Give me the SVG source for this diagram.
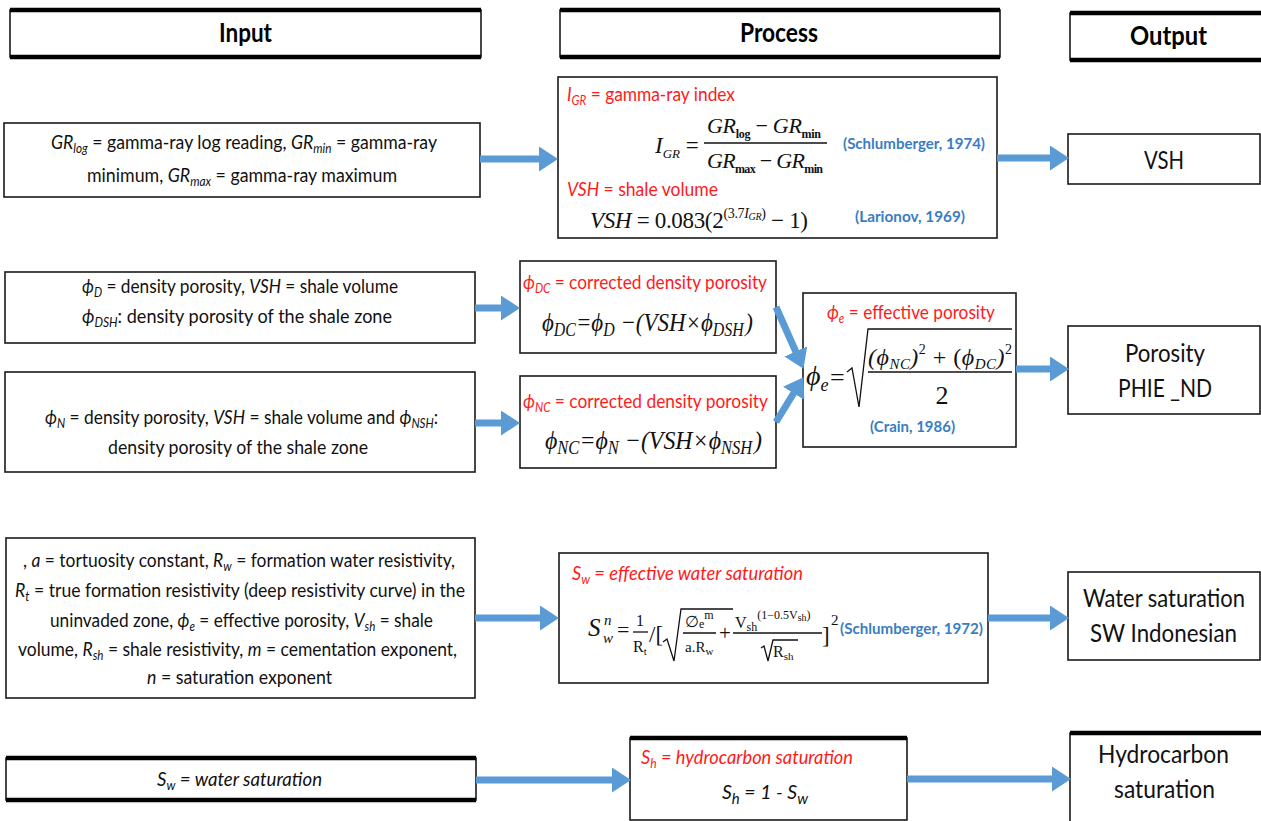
<svg xmlns="http://www.w3.org/2000/svg" width="1261" height="821" viewBox="0 0 1261 821">
  <style>
    .box { fill: #ffffff; stroke: #1a1a1a; stroke-width: 1.6; }
    .edge { stroke: #000000; stroke-width: 4.5; }
    .hdr { font-family: Lato, "Liberation Sans", sans-serif; font-weight: bold; font-size: 26px; fill: #000; }
    .t { font-family: Lato, "Liberation Sans", sans-serif; font-size: 19.5px; fill: #111; }
    .out { font-family: Lato, "Liberation Sans", sans-serif; font-size: 25px; fill: #111; }
    .red { font-family: Lato, "Liberation Sans", sans-serif; font-size: 19.5px; fill: #ff1a1a; }
    .cite { font-family: Lato, "Liberation Sans", sans-serif; font-weight: bold; font-size: 16px; fill: #3a7dc2; }
    .m { font-family: "Liberation Serif", "Times New Roman", serif; fill: #111; }
    .i { font-style: italic; }
    .sub { font-size: 13px; }
    .conn line { stroke: #5b9bd5; stroke-width: 7; marker-end: url(#head); }
    .rule { stroke: #111; stroke-width: 1.3; fill: none; }
  </style>
  <defs>
    <marker id="head" markerUnits="userSpaceOnUse" markerWidth="19" markerHeight="25" refX="8" refY="12.5" orient="auto">
      <path d="M0,0 L19,12.5 L0,25 z" fill="#5b9bd5"/>
    </marker>
  </defs>

  <rect width="1261" height="821" fill="#ffffff"/>

  <!-- column headers -->
  <g id="hdr-input">
    <rect class="box" x="10" y="10" width="471" height="47"/>
    <line class="edge" x1="10" y1="10" x2="481" y2="10"/>
    <line class="edge" x1="10" y1="57" x2="481" y2="57"/>
    <text class="hdr" x="219" y="42" textLength="53" lengthAdjust="spacingAndGlyphs">Input</text>
  </g>
  <g id="hdr-process">
    <rect class="box" x="560" y="10" width="440" height="47"/>
    <line class="edge" x1="560" y1="10" x2="1000" y2="10"/>
    <line class="edge" x1="560" y1="57" x2="1000" y2="57"/>
    <text class="hdr" x="740" y="42" textLength="78" lengthAdjust="spacingAndGlyphs">Process</text>
  </g>
  <g id="hdr-output">
    <rect class="box" x="1070" y="13" width="200" height="47"/>
    <line class="edge" x1="1070" y1="13" x2="1261" y2="13"/>
    <line class="edge" x1="1070" y1="60" x2="1261" y2="60"/>
    <text class="hdr" x="1130" y="45" textLength="77" lengthAdjust="spacingAndGlyphs">Output</text>
  </g>

  <!-- row 1: shale volume -->
  <g id="in-gr">
    <rect class="box" x="4" y="123" width="476" height="74"/>
    <text class="t" x="51" y="149" textLength="386" lengthAdjust="spacingAndGlyphs"><tspan class="i">GR</tspan><tspan class="i sub" dy="4">log</tspan><tspan dy="-4"> = gamma-ray log reading,  </tspan><tspan class="i">GR</tspan><tspan class="i sub" dy="4">min</tspan><tspan dy="-4"> = gamma-ray</tspan></text>
    <text class="t" x="87" y="182" textLength="310" lengthAdjust="spacingAndGlyphs">minimum, <tspan class="i">GR</tspan><tspan class="i sub" dy="4">max</tspan><tspan dy="-4"> = gamma-ray maximum</tspan></text>
  </g>
  <g id="proc-vsh">
    <rect class="box" x="558" y="77" width="439" height="161"/>
    <text class="red" x="567" y="101" textLength="168" lengthAdjust="spacingAndGlyphs"><tspan class="i">I</tspan><tspan class="i sub" dy="4">GR</tspan><tspan dy="-4"> = gamma-ray index</tspan></text>
    <text class="m" x="655" y="153" font-size="23"><tspan class="i">I</tspan><tspan class="i" font-size="13" dy="5">GR</tspan><tspan dy="-5"> =</tspan></text>
    <text class="m" x="707" y="133" font-size="22" textLength="114"><tspan class="i">GR</tspan><tspan font-size="12" font-weight="bold" dy="5">log</tspan><tspan dy="-5"> − </tspan><tspan class="i">GR</tspan><tspan font-size="12" font-weight="bold" dy="5">min</tspan></text>
    <line class="rule" x1="704" y1="143" x2="827" y2="143"/>
    <text class="m" x="707" y="168" font-size="22" textLength="116"><tspan class="i">GR</tspan><tspan font-size="12" font-weight="bold" dy="5">max</tspan><tspan dy="-5"> − </tspan><tspan class="i">GR</tspan><tspan font-size="12" font-weight="bold" dy="5">min</tspan></text>
    <text class="cite" x="843" y="149" textLength="142" lengthAdjust="spacingAndGlyphs">(Schlumberger, 1974)</text>
    <text class="red" x="567" y="196" textLength="151" lengthAdjust="spacingAndGlyphs"><tspan class="i">VSH</tspan> = shale volume</text>
    <text class="m" x="590" y="228" font-size="23" textLength="218"><tspan class="i">VSH</tspan> = 0.083(2<tspan font-size="14" dy="-10">(3.7</tspan><tspan class="i" font-size="14">I</tspan><tspan class="i" font-size="10" dy="2">GR</tspan><tspan font-size="14" dy="-2">)</tspan><tspan dy="10"> − 1)</tspan></text>
    <text class="cite" x="855" y="222" textLength="110" lengthAdjust="spacingAndGlyphs">(Larionov, 1969)</text>
  </g>
  <g id="out-vsh">
    <rect class="box" x="1068" y="134" width="192" height="50"/>
    <text class="out" x="1144" y="169" textLength="40" lengthAdjust="spacingAndGlyphs">VSH</text>
  </g>

  <!-- row 2: porosity -->
  <g id="in-density">
    <rect class="box" x="5" y="272" width="470" height="71"/>
    <text class="t" x="82" y="293" textLength="316" lengthAdjust="spacingAndGlyphs"><tspan class="i">ϕ</tspan><tspan class="i sub" dy="4">D</tspan><tspan dy="-4"> = density porosity, </tspan><tspan class="i">VSH</tspan> = shale volume</text>
    <text class="t" x="82" y="323" textLength="310" lengthAdjust="spacingAndGlyphs"><tspan class="i">ϕ</tspan><tspan class="i sub" dy="4">DSH</tspan><tspan dy="-4">:  density porosity of the shale zone</tspan></text>
  </g>
  <g id="in-neutron">
    <rect class="box" x="5" y="372" width="470" height="100"/>
    <text class="t" x="45" y="424" textLength="393" lengthAdjust="spacingAndGlyphs"><tspan class="i">ϕ</tspan><tspan class="i sub" dy="4">N</tspan><tspan dy="-4"> = density porosity, </tspan><tspan class="i">VSH</tspan> = shale volume and <tspan class="i">ϕ</tspan><tspan class="i sub" dy="4">NSH</tspan><tspan dy="-4">:</tspan></text>
    <text class="t" x="108" y="454" textLength="260" lengthAdjust="spacingAndGlyphs">density porosity of the shale zone</text>
  </g>
  <g id="proc-dc">
    <rect class="box" x="520" y="261" width="256" height="92"/>
    <text class="red" x="523" y="289" textLength="244" lengthAdjust="spacingAndGlyphs"><tspan class="i">ϕ</tspan><tspan class="i sub" dy="4">DC</tspan><tspan dy="-4"> = corrected density porosity</tspan></text>
    <text class="m i" x="542" y="331" font-size="26" textLength="211" lengthAdjust="spacingAndGlyphs">ϕ<tspan font-size="18" dy="5">DC</tspan><tspan dy="-5">=ϕ</tspan><tspan font-size="18" dy="5">D</tspan><tspan dy="-5"> −(VSH×ϕ</tspan><tspan font-size="18" dy="5">DSH</tspan><tspan dy="-5" dx="2">)</tspan></text>
  </g>
  <g id="proc-nc">
    <rect class="box" x="520" y="376" width="256" height="92"/>
    <text class="red" x="523" y="408" textLength="245" lengthAdjust="spacingAndGlyphs"><tspan class="i">ϕ</tspan><tspan class="i sub" dy="4">NC</tspan><tspan dy="-4"> = corrected density porosity</tspan></text>
    <text class="m i" x="545" y="449" font-size="26" textLength="217" lengthAdjust="spacingAndGlyphs">ϕ<tspan font-size="18" dy="5">NC</tspan><tspan dy="-5">=ϕ</tspan><tspan font-size="18" dy="5">N</tspan><tspan dy="-5"> −(VSH×ϕ</tspan><tspan font-size="18" dy="5">NSH</tspan><tspan dy="-5" dx="2">)</tspan></text>
  </g>
  <g id="proc-phie">
    <rect class="box" x="803" y="293" width="213" height="154"/>
    <text class="red" x="827" y="319" textLength="168" lengthAdjust="spacingAndGlyphs"><tspan class="i">ϕ</tspan><tspan class="i sub" dy="4">e</tspan><tspan dy="-4"> = effective porosity</tspan></text>
    <text class="m i" x="806" y="385" font-size="28">ϕ<tspan font-size="18" dy="6">e</tspan></text>
    <text class="m" x="830" y="386" font-size="26">=</text>
    <path class="rule" d="M847,372 L852,368 L859,407 L868,329 L1012,329" stroke-width="1.6"/>
    <text class="m i" x="868" y="365" font-size="24" textLength="144">(ϕ<tspan font-size="15" dy="4">NC</tspan><tspan dy="-4">)</tspan><tspan font-style="normal" font-size="14" dy="-11">2</tspan><tspan font-style="normal" dy="11"> + (</tspan>ϕ<tspan font-size="15" dy="4">DC</tspan><tspan dy="-4">)</tspan><tspan font-style="normal" font-size="14" dy="-11">2</tspan></text>
    <line class="rule" x1="868" y1="372" x2="1012" y2="372"/>
    <text class="m" x="942" y="404" font-size="26" text-anchor="middle">2</text>
    <text class="cite" x="870" y="432" font-size="15" textLength="85" lengthAdjust="spacingAndGlyphs">(Crain, 1986)</text>
  </g>
  <g id="out-porosity">
    <rect class="box" x="1068" y="326" width="192" height="88"/>
    <text class="out" x="1125" y="362" textLength="80" lengthAdjust="spacingAndGlyphs">Porosity</text>
    <text class="out" x="1118" y="397" textLength="94" lengthAdjust="spacingAndGlyphs">PHIE _ND</text>
  </g>

  <!-- row 3: water saturation -->
  <g id="in-sw">
    <rect class="box" x="6" y="538" width="469" height="160"/>
    <text class="t" x="23" y="567" textLength="432" lengthAdjust="spacingAndGlyphs">, <tspan class="i">a</tspan> = tortuosity constant, <tspan class="i">R</tspan><tspan class="i sub" dy="4">w</tspan><tspan dy="-4"> = formation water resistivity,</tspan></text>
    <text class="t" x="15" y="597" textLength="450" lengthAdjust="spacingAndGlyphs"><tspan class="i">R</tspan><tspan class="i sub" dy="4">t</tspan><tspan dy="-4"> = true formation resistivity (deep resistivity curve) in the</tspan></text>
    <text class="t" x="50" y="627" textLength="383" lengthAdjust="spacingAndGlyphs">uninvaded zone, <tspan class="i">ϕ</tspan><tspan class="i sub" dy="4">e</tspan><tspan dy="-4"> = effective porosity, </tspan><tspan class="i">V</tspan><tspan class="i sub" dy="4">sh</tspan><tspan dy="-4"> = shale</tspan></text>
    <text class="t" x="18" y="656" textLength="439" lengthAdjust="spacingAndGlyphs">volume, <tspan class="i">R</tspan><tspan class="i sub" dy="4">sh</tspan><tspan dy="-4"> = shale resistivity, </tspan><tspan class="i">m</tspan> = cementation exponent,</text>
    <text class="t" x="147" y="684" textLength="185" lengthAdjust="spacingAndGlyphs"><tspan class="i">n</tspan> = saturation exponent</text>
  </g>
  <g id="proc-sw">
    <rect class="box" x="559" y="553" width="429" height="130"/>
    <text class="red i" x="572" y="580" textLength="231" lengthAdjust="spacingAndGlyphs">S<tspan class="sub" dy="4">w</tspan><tspan dy="-4"> = effective water saturation</tspan></text>
    <!-- Indonesian equation -->
    <text class="m i" x="588" y="636" font-size="25">S</text>
    <text class="m i" x="604" y="625" font-size="15">n</text>
    <text class="m i" x="603" y="643" font-size="15">w</text>
    <text class="m" x="617" y="637" font-size="22">=</text>
    <text class="m" x="640" y="626" font-size="16" text-anchor="middle">1</text>
    <line class="rule" x1="633" y1="632" x2="648" y2="632"/>
    <text class="m" x="633" y="652" font-size="16">R<tspan font-size="11" dy="3">t</tspan></text>
    <text class="m" x="649" y="642" font-size="23">/[</text>
    <path class="rule" d="M663,642 L667,639 L674,661 L681,609 L733,609"/>
    <text class="m" x="685" y="627" font-size="16">∅<tspan font-size="12" dy="1">e</tspan><tspan font-size="12" dy="-9">m</tspan></text>
    <line class="rule" x1="683" y1="633" x2="716" y2="633"/>
    <text class="m" x="685" y="652" font-size="15">a.R<tspan font-size="11" dy="3">w</tspan></text>
    <text class="m" x="719" y="640" font-size="21">+</text>
    <text class="m" x="735" y="628" font-size="16">V<tspan font-size="12" dy="3">sh</tspan><tspan font-size="12" dy="-12">(1−0.5V</tspan><tspan font-size="10" dy="2">sh</tspan><tspan font-size="12" dy="-2">)</tspan></text>
    <line class="rule" x1="733" y1="633" x2="822" y2="633"/>
    <path class="rule" d="M761,648 L764,646 L768,661 L773,640 L798,640"/>
    <text class="m" x="773" y="657" font-size="16">R<tspan font-size="11" dy="3">sh</tspan></text>
    <text class="m" x="822" y="643" font-size="23">]</text>
    <text class="m" x="831" y="625" font-size="15">2</text>
    <text class="cite" x="840" y="634" textLength="143" lengthAdjust="spacingAndGlyphs">(Schlumberger, 1972)</text>
  </g>
  <g id="out-sw">
    <rect class="box" x="1068" y="572" width="192" height="88"/>
    <text class="out" x="1083" y="607" textLength="162" lengthAdjust="spacingAndGlyphs">Water saturation</text>
    <text class="out" x="1090" y="642" textLength="147" lengthAdjust="spacingAndGlyphs">SW Indonesian</text>
  </g>

  <!-- row 4: hydrocarbon saturation -->
  <g id="in-sat">
    <rect class="box" x="6" y="758" width="470" height="42"/>
    <line class="edge" x1="6" y1="758" x2="476" y2="758"/>
    <line class="edge" x1="6" y1="800" x2="476" y2="800"/>
    <text class="t i" x="157" y="786" textLength="165" lengthAdjust="spacingAndGlyphs">S<tspan class="sub" dy="4">w</tspan><tspan dy="-4"> = water saturation</tspan></text>
  </g>
  <g id="proc-sh">
    <rect class="box" x="630" y="738" width="277" height="82"/>
    <line class="edge" x1="630" y1="738" x2="907" y2="738"/>
    <text class="red i" x="641" y="764" textLength="212" lengthAdjust="spacingAndGlyphs">S<tspan class="sub" dy="4">h</tspan><tspan dy="-4"> = hydrocarbon saturation</tspan></text>
    <text class="t i" x="722" y="799" font-size="23" textLength="86" lengthAdjust="spacingAndGlyphs">S<tspan font-size="15" dy="5">h</tspan><tspan dy="-5"> = 1 - S</tspan><tspan font-size="15" dy="5">w</tspan></text>
  </g>
  <g id="out-sh">
    <rect class="box" x="1070" y="733" width="200" height="100"/>
    <line class="edge" x1="1070" y1="733" x2="1261" y2="733"/>
    <text class="out" x="1098" y="763" textLength="131" lengthAdjust="spacingAndGlyphs">Hydrocarbon</text>
    <text class="out" x="1114" y="798" textLength="101" lengthAdjust="spacingAndGlyphs">saturation</text>
  </g>

  <!-- connectors -->
  <g id="connectors" class="conn">
    <line x1="480" y1="159" x2="547" y2="159"/>
    <line x1="997" y1="158" x2="1058" y2="158"/>
    <line x1="475" y1="308" x2="509" y2="308"/>
    <line x1="475" y1="423" x2="509" y2="423"/>
    <line x1="776" y1="307" x2="799" y2="358.8"/>
    <line x1="776" y1="422" x2="797.8" y2="386.5"/>
    <line x1="1016" y1="369" x2="1058" y2="369"/>
    <line x1="475" y1="618" x2="548" y2="618"/>
    <line x1="988" y1="618" x2="1058" y2="618"/>
    <line x1="476" y1="780" x2="620" y2="780"/>
    <line x1="907" y1="779" x2="1060" y2="779"/>
  </g>
</svg>
